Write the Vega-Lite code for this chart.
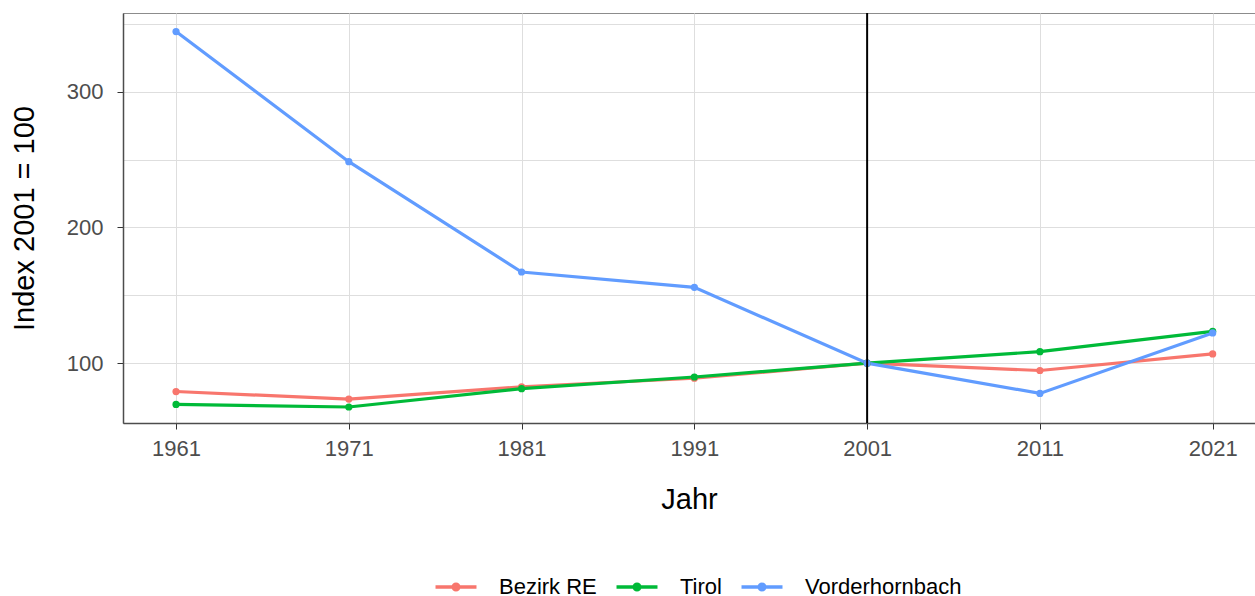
{
  "$schema": "https://vega.github.io/schema/vega-lite/v6.json",
  "width": 1132,
  "height": 410,
  "autosize": {"type": "none"},
  "padding": {"left": 123, "top": 13, "right": 0, "bottom": 173},
  "background": "white",
  "config": {
    "view": {"stroke": "#8c8c8c", "strokeWidth": 1},
    "font": "Liberation Sans",
    "axis": {
      "labelFont": "Liberation Sans",
      "titleFont": "Liberation Sans",
      "labelFontSize": 22,
      "labelColor": "#4d4d4d",
      "titleFontSize": 29,
      "titleFontWeight": "normal",
      "titleColor": "#000000",
      "gridColor": "#dedede",
      "gridWidth": 1,
      "domainColor": "#4d4d4d",
      "domainWidth": 1.5,
      "tickColor": "#333333",
      "tickSize": 6
    }
  },
  "datasets": {
    "pop": [
      {"Jahr": 1961, "Region": "Bezirk RE", "Index": 79.1},
      {"Jahr": 1971, "Region": "Bezirk RE", "Index": 73.5},
      {"Jahr": 1981, "Region": "Bezirk RE", "Index": 82.6},
      {"Jahr": 1991, "Region": "Bezirk RE", "Index": 88.9},
      {"Jahr": 2001, "Region": "Bezirk RE", "Index": 100},
      {"Jahr": 2011, "Region": "Bezirk RE", "Index": 94.6},
      {"Jahr": 2021, "Region": "Bezirk RE", "Index": 106.8},
      {"Jahr": 1961, "Region": "Tirol", "Index": 69.6},
      {"Jahr": 1971, "Region": "Tirol", "Index": 67.7},
      {"Jahr": 1981, "Region": "Tirol", "Index": 81.2},
      {"Jahr": 1991, "Region": "Tirol", "Index": 89.8},
      {"Jahr": 2001, "Region": "Tirol", "Index": 100},
      {"Jahr": 2011, "Region": "Tirol", "Index": 108.5},
      {"Jahr": 2021, "Region": "Tirol", "Index": 123.5},
      {"Jahr": 1961, "Region": "Vorderhornbach", "Index": 344.4},
      {"Jahr": 1971, "Region": "Vorderhornbach", "Index": 248.5},
      {"Jahr": 1981, "Region": "Vorderhornbach", "Index": 167.2},
      {"Jahr": 1991, "Region": "Vorderhornbach", "Index": 155.9},
      {"Jahr": 2001, "Region": "Vorderhornbach", "Index": 100},
      {"Jahr": 2011, "Region": "Vorderhornbach", "Index": 77.7},
      {"Jahr": 2021, "Region": "Vorderhornbach", "Index": 122.3}
    ],
    "ref": [{"Jahr": 2001}]
  },
  "encoding": {
    "x": {
      "field": "Jahr",
      "type": "quantitative",
      "scale": {"domain": [1957.93, 2023.45], "nice": false, "zero": false},
      "axis": {
        "title": "Jahr",
        "values": [1961, 1971, 1981, 1991, 2001, 2011, 2021],
        "format": "d",
        "labelPadding": 9,
        "titlePadding": 26,
        "grid": true
      }
    }
  },
  "layer": [
    {
      "data": {"name": "pop"},
      "mark": {"type": "line", "strokeWidth": 3.2},
      "encoding": {
        "y": {
          "field": "Index",
          "type": "quantitative",
          "scale": {"domain": [55.9, 358.1], "nice": false, "zero": false},
          "axis": {
            "title": "Index 2001 = 100",
            "values": [100, 150, 200, 250, 300, 350],
            "labelExpr": "datum.value % 100 === 0 ? datum.label : ''",
            "tickOpacity": {"condition": {"test": "datum.value % 100 !== 0", "value": 0}, "value": 1},
            "labelPadding": 14,
            "titlePadding": 27,
            "grid": true
          }
        },
        "color": {
          "field": "Region",
          "type": "nominal",
          "scale": {"domain": ["Bezirk RE", "Tirol", "Vorderhornbach"], "range": ["#F8766D", "#00BA38", "#619CFF"]},
          "legend": {
            "title": null,
            "orient": "none",
            "direction": "horizontal",
            "legendX": 321,
            "legendY": 562,
            "labelFontSize": 22,
            "labelColor": "#000000",
            "labelFont": "Liberation Sans",
            "labelOffset": 31,
            "columnPadding": 12,
            "symbolType": "M-2,0L2,0M0.27,0A0.27,0.27 0 1 1 -0.27,0A0.27,0.27 0 1 1 0.27,0",
            "symbolSize": 420,
            "symbolStrokeWidth": 3.5,
            "encode": {
              "symbols": {
                "update": {
                  "fill": {"scale": "color", "field": "value"},
                  "stroke": {"scale": "color", "field": "value"},
                  "fillOpacity": {"value": 1},
                  "opacity": {"value": 1}
                }
              }
            }
          }
        }
      }
    },
    {
      "data": {"name": "pop"},
      "mark": {"type": "point", "filled": true, "size": 52, "opacity": 1},
      "encoding": {
        "y": {"field": "Index", "type": "quantitative"},
        "color": {"field": "Region", "type": "nominal"}
      }
    },
    {
      "data": {"name": "ref"},
      "mark": {"type": "rule", "color": "#000000", "strokeWidth": 2},
      "encoding": {}
    }
  ]
}
